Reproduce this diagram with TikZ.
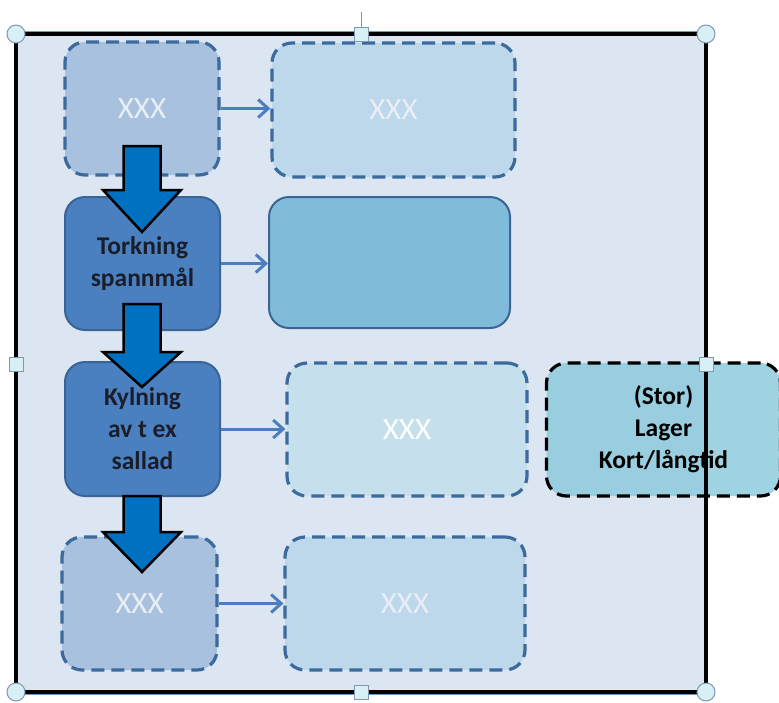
\documentclass[tikz,border=0pt]{standalone}
\usepackage{fontspec}
\setmainfont{Carlito}
\usetikzlibrary{arrows.meta}
\definecolor{framebg}{HTML}{DCE6F2}
\definecolor{boxA}{HTML}{A7C1DF}
\definecolor{boxB}{HTML}{BDD8EA}
\definecolor{boxC}{HTML}{C5E0EC}
\definecolor{boxD}{HTML}{4A80BF}
\definecolor{boxE}{HTML}{80BCD9}
\definecolor{boxF}{HTML}{88C9DB}
\definecolor{dashblue}{HTML}{3B6A9C}
\definecolor{solidblue}{HTML}{3A6494}
\definecolor{thinarrow}{HTML}{4A7EBF}
\definecolor{bigarrow}{HTML}{0070C0}
\definecolor{xxxtext}{HTML}{E9EEF5}
\definecolor{darktext}{HTML}{1A1E2A}
\definecolor{handlefill}{HTML}{D6F0F6}
\definecolor{handleline}{HTML}{7F98B0}
\tikzset{
  dashbox/.style={rounded corners=20pt, draw=dashblue, line width=3.2pt,
    dash pattern=on 13pt off 7pt, minimum width=#1},
  solidbox/.style={rounded corners=20pt, draw=solidblue, line width=2pt, minimum width=#1},
  xxx/.style={text=xxxtext, font=\fontsize{31}{36}\selectfont},
  label/.style={text=darktext, font=\bfseries\fontsize{25.5}{32}\selectfont, align=center},
  conn/.style={draw=thinarrow, line width=3pt, -{Straight Barb[length=10pt,width=18pt,line width=3pt]}},
  blockarrow/.style={fill=bigarrow, draw=black, line width=2.5pt, line join=miter},
  hcircle/.style={circle, fill=handlefill, draw=handleline, line width=1pt, minimum size=18pt, inner sep=0pt},
  hsquare/.style={rectangle, fill=handlefill, draw=handleline, line width=1pt, minimum size=14pt, inner sep=0pt}
}
\newcommand{\bigdownarrow}[4]{% x, ytop, yheadbase, ytip
  \draw[blockarrow] (#1-18.5,#2) -- (#1+18.5,#2) -- (#1+18.5,#3) -- (#1+39,#3)
    -- (#1,#4) -- (#1-39,#3) -- (#1-18.5,#3) -- cycle;}
\begin{document}
\begin{tikzpicture}[x=1pt,y=-1pt]
\useasboundingbox (0,0) rectangle (779,702);
\fill[white] (0,0) rectangle (779,702);
% frame background
\fill[framebg] (16,34) rectangle (706,692);
% boxes
\node[dashbox=154pt, minimum height=133pt, fill=boxA, xxx] (b1) at (142,108.5) {XXX};
\node[dashbox=243pt, minimum height=134pt, fill=boxB, xxx] (b2) at (393.5,110) {XXX};
\node[solidbox=155pt, minimum height=133pt, fill=boxD, label] (b3) at (142.5,263.5) {Torkning\\spannmål};
\node[solidbox=241pt, minimum height=131pt, fill=boxE] (b4) at (389.5,262.5) {};
\node[solidbox=155pt, minimum height=134pt, fill=boxD, label] (b5) at (142.5,429) {Kylning\\av t ex\\sallad};
\node[dashbox=240pt, minimum height=133pt, fill=boxC, xxx, text=white] (b6) at (407,429.5) {XXX};
\node[dashbox=234pt, minimum height=133pt, draw=black, fill=boxF, fill opacity=0.8, text opacity=1, label, text=black] (b7) at (663.5,429.5) {(Stor)\\Lager\\Kort/långtid};
\node[dashbox=155pt, minimum height=133pt, fill=boxA, xxx] (b8) at (139.5,603.5) {XXX};
\node[dashbox=240pt, minimum height=133pt, fill=boxB, xxx] (b9) at (405,603.5) {XXX};
% thin connectors
\draw[conn] (b1.east) -- (b1.east -| b2.west);
\draw[conn] (b3.east) -- (b3.east -| b4.west);
\draw[conn] (b5.east) -- (b5.east -| b6.west);
\draw[conn] (b8.east) -- (b8.east -| b9.west);
% block arrows
\bigdownarrow{142}{146}{190}{232}
\bigdownarrow{142}{304}{352}{387}
\bigdownarrow{142}{496}{532}{572}
% frame border
\draw[line width=4pt, black] (16,34) rectangle (706,692);
\draw[line width=0.8pt, thinarrow!80] (16,31.5) -- (706,31.5);
\draw[line width=0.8pt, thinarrow!80] (16,694.5) -- (706,694.5);
% handles
\draw[line width=1pt, handleline] (361,12) -- (361,27);
\node[hcircle] (h1) at (16,34) {};
\node[hcircle] (h2) at (706,34) {};
\node[hcircle] (h3) at (16,692) {};
\node[hcircle] (h4) at (706,692) {};
\node[hsquare] (h5) at (361,34) {};
\node[hsquare] (h6) at (706,364) {};
\node[hsquare] (h7) at (16,364) {};
\node[hsquare] (h8) at (361,692) {};
\end{tikzpicture}
\end{document}
